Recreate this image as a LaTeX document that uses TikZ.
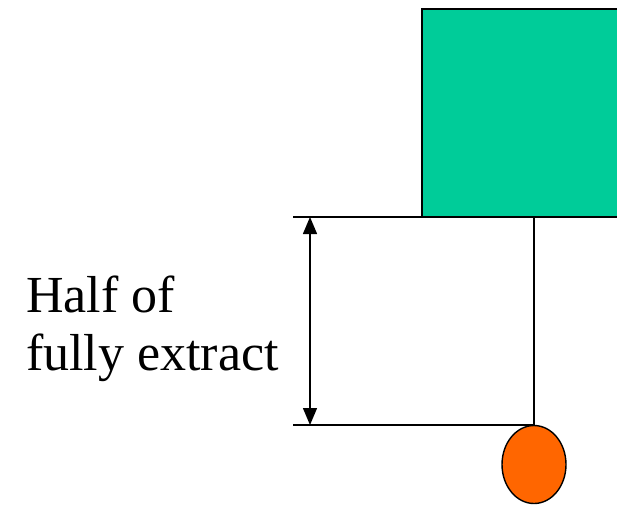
\documentclass[tikz,border=0pt]{standalone}
\usepackage{fontspec}
\setmainfont{Liberation Serif}
\usetikzlibrary{arrows.meta,shapes.geometric}
\begin{document}
\begin{tikzpicture}[x=1pt,y=-1pt,
  lin/.style={draw=black,line width=1.6pt},
  dim/.style={draw=black,line width=1.4pt,{Triangle[width=14pt,length=17pt]}-{Triangle[width=14pt,length=17pt]}},
  lbl/.style={font=\fontsize{52}{53}\selectfont,anchor=base west,inner sep=0pt}]
\useasboundingbox (0,0) rectangle (617,504);
\fill[fill={rgb,255:red,0;green,204;blue,153}] (422,9) rectangle (619,217);
\draw[line width=1.6pt] (619,9) -- (422,9) -- (422,217);
\coordinate (topL) at (293,217);
\coordinate (topR) at (619,217);
\coordinate (botL) at (293,425);
\coordinate (rodT) at (534,217);
\coordinate (rodB) at (534,425);
\coordinate (arT) at (310,217);
\coordinate (arB) at (310,425);
\draw[lin] (topL) -- (topR);
\draw[lin] (rodT) -- (rodB);
\draw[lin] (botL) -- (rodB);
\draw[dim] (arT) -- (arB);
\node[ellipse, draw=black, line width=1.4pt, fill={rgb,255:red,255;green,102;blue,0}, minimum width=64pt, minimum height=78pt, inner sep=0pt] (ball) at (534,464.5) {};
\node[lbl] (t1) at (26,312) {Half of};
\node[lbl] (t2) at (26,370) {fully extract};
\end{tikzpicture}
\end{document}
